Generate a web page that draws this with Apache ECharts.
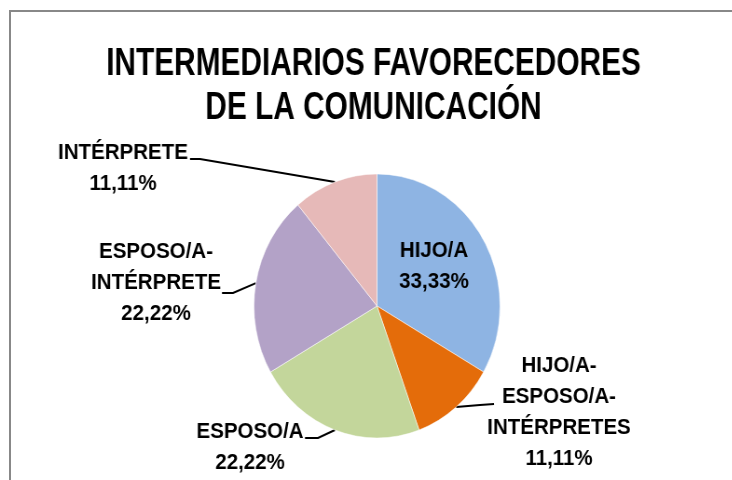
<!DOCTYPE html>
<html>
<head>
<meta charset="utf-8">
<script src="https://cdn.jsdelivr.net/npm/echarts@6/dist/echarts.min.js"></script>
<style>
  html, body { margin: 0; padding: 0; background: #fff; overflow: hidden; }
  #frame { position: absolute; left: 9px; top: 10px; width: 760px; height: 500px;
           border-left: 2px solid #888; border-top: 2px solid #888; }
  /* the reference is squeezed horizontally, so the whole chart is too */
  #pie { position: absolute; left: 0; top: 0; width: 802px; height: 480px;
         transform: scaleX(0.932); transform-origin: 0 0; }
</style>
</head>
<body>
<div id="frame"></div>
<div id="pie"></div>
<script>
const SX = 0.932;

const titleLines = ['INTERMEDIARIOS FAVORECEDORES', 'DE LA COMUNICACIÓN'];
const categories = ['HIJO/A', 'HIJO/A-ESPOSO/A-INTÉRPRETES', 'ESPOSO/A', 'ESPOSO/A-INTÉRPRETE', 'INTÉRPRETE'];
const values = [3, 1, 2, 2, 1];
const colors = ['#8EB4E3', '#E46C0A', '#C3D69B', '#B3A2C7', '#E6B9B8'];

const total = values.reduce((a, b) => a + b, 0);

// label placement, in picture pixels: block centre, then leader line elbow and end
const place = [
  { x: 434, y: 266 },
  { x: 559, y: 412, elbow: [480, 405], end: [494, 404] },
  { x: 250, y: 447, elbow: [318, 438], end: [305, 438] },
  { x: 156, y: 283, elbow: [233, 293], end: [222, 293] },
  { x: 123, y: 168, elbow: [200, 159], end: [190, 159] }
];

const chart = echarts.init(document.getElementById('pie'));

const option = {
  animation: false,
  // title drawn as narrow text (Calibri-like proportions)
  graphic: [{
    type: 'text',
    x: 373.5 / SX,
    y: 43,
    scaleX: 0.842,
    style: {
      text: titleLines.join('\n'),
      fontFamily: '"Liberation Sans", sans-serif',
      fontSize: 38,
      fontWeight: 'bold',
      lineHeight: 44,
      fill: '#000',
      align: 'center',
      verticalAlign: 'top'
    }
  }],
  series: [{
    type: 'pie',
    center: [377 / SX, 306],
    radius: 132,
    startAngle: 90,
    clockwise: true,
    data: categories.map((name, i) => ({
      name: name,
      value: values[i],
      itemStyle: { color: colors[i] },
      labelLine: { show: i !== 0 }
    })),
    itemStyle: { borderColor: '#fff', borderWidth: 0.5 },
    label: {
      show: true,
      color: '#000',
      fontFamily: '"Liberation Sans", sans-serif',
      fontSize: 22,
      fontWeight: 'bold',
      lineHeight: 31,
      align: 'center',
      formatter: p => p.name.replace(/-/g, '-\n') + '\n' +
        (p.value / total * 100).toFixed(2).replace('.', ',') + '%'
    },
    labelLine: {
      show: true,
      lineStyle: { color: '#000', width: 2 }
    },
    labelLayout: params => {
      const p = place[params.dataIndex];
      const res = { x: p.x / SX, y: p.y, align: 'center', verticalAlign: 'middle' };
      if (p.end && params.labelLinePoints) {
        res.labelLinePoints = [
          params.labelLinePoints[0],
          [p.elbow[0] / SX, p.elbow[1]],
          [p.end[0] / SX, p.end[1]]
        ];
      }
      return res;
    }
  }]
};

chart.setOption(option);
</script>
</body>
</html>
